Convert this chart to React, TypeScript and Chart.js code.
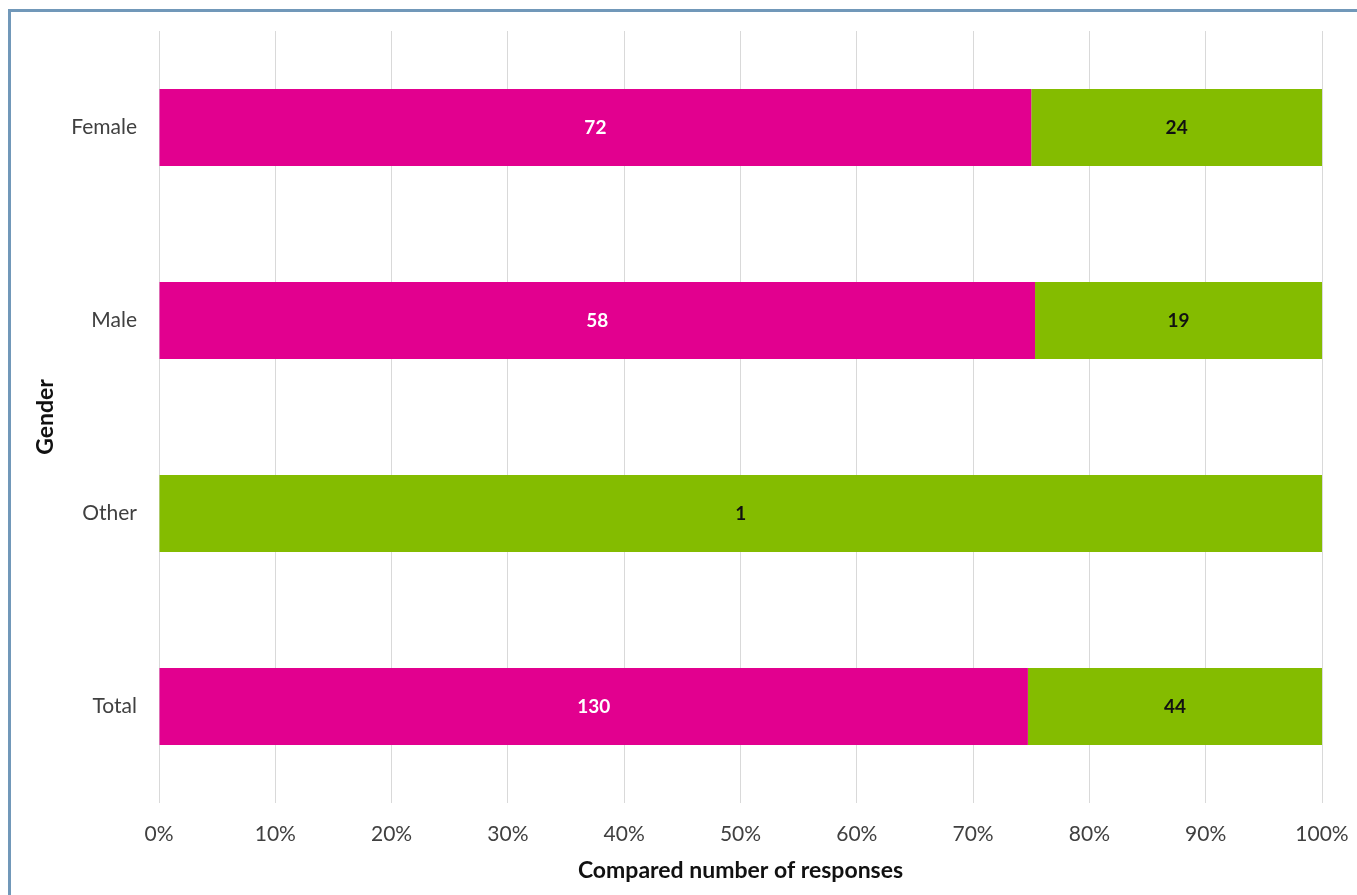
import React, { useEffect, useRef } from "react";
import { Chart, registerables } from "chart.js";

Chart.register(...registerables);

const categories = ["Female", "Male", "Other", "Total"];
const pinkCounts = [72, 58, 0, 130];
const greenCounts = [24, 19, 1, 44];
const xTickValues = [0, 10, 20, 30, 40, 50, 60, 70, 80, 90, 100];

const PINK = "#e2008f";
const GREEN = "#84bc00";
const FONT = "Lato, 'Open Sans', sans-serif";

function pct(a: number[], b: number[]) {
  return a.map((v, i) => {
    const t = a[i] + b[i];
    return t === 0 ? 0 : (v / t) * 100;
  });
}

const labelPlugin = {
  id: "barLabels",
  afterDatasetsDraw(chart: any) {
    const ctx = chart.ctx;
    ctx.save();
    ctx.font = `bold 19px ${FONT}`;
    ctx.textAlign = "center";
    ctx.textBaseline = "middle";
    chart.data.datasets.forEach((ds: any, di: number) => {
      const meta = chart.getDatasetMeta(di);
      const counts: number[] = ds.counts;
      meta.data.forEach((el: any, i: number) => {
        if (!counts[i]) return;
        const x = (el.x + el.base) / 2;
        ctx.fillStyle = ds.labelColor;
        ctx.fillText(String(counts[i]), x, el.y);
      });
    });
    ctx.restore();
  },
};

export default function App() {
  const ref = useRef<HTMLCanvasElement>(null);
  useEffect(() => {
    if (!ref.current) return;
    const chart = new Chart(ref.current, {
      type: "bar",
      data: {
        labels: categories,
        datasets: [
          {
            label: "A",
            data: pct(pinkCounts, greenCounts),
            backgroundColor: PINK,
            counts: pinkCounts,
            labelColor: "#ffffff",
          } as any,
          {
            label: "B",
            data: pct(greenCounts, pinkCounts),
            backgroundColor: GREEN,
            counts: greenCounts,
            labelColor: "#111111",
          } as any,
        ],
      },
      options: {
        indexAxis: "y",
        responsive: false,
        animation: false,
        maintainAspectRatio: false,
        layout: { padding: { left: 0, top: 31, right: 35, bottom: 0 } },
        datasets: { bar: { categoryPercentage: 1, barPercentage: 0.4 } },
        plugins: {
          legend: { display: false },
          tooltip: { enabled: false },
        },
        scales: {
          x: {
            stacked: true,
            min: 0,
            max: 100,
            afterFit: (s: any) => {
              s.height = 92;
              s.paddingLeft = 0;
              s.paddingRight = 0;
            },
            afterBuildTicks: (s: any) => {
              s.ticks = xTickValues.map((v) => ({ value: v }));
            },
            grid: { color: "#d9d9d9", lineWidth: 1, drawTicks: false },
            border: { display: false },
            ticks: {
              padding: 19,
              color: "#404040",
              font: { family: FONT, size: 21 },
              callback: (v: any) => `${v}%`,
            },
            title: {
              display: true,
              text: "Compared number of responses",
              color: "#111111",
              font: { family: FONT, size: 23, weight: "bold" },
              padding: { top: 0, bottom: 11 },
            },
          },
          y: {
            stacked: true,
            afterFit: (s: any) => {
              s.width = 159;
              s.paddingTop = 0;
              s.paddingBottom = 0;
            },
            grid: { display: false },
            border: { display: false },
            ticks: {
              padding: 14,
              color: "#404040",
              font: { family: FONT, size: 21 },
            },
            title: {
              display: true,
              text: "Gender",
              color: "#111111",
              font: { family: FONT, size: 23, weight: "bold" },
              padding: { top: 32, bottom: 0 },
            },
          },
        },
      },
      plugins: [labelPlugin],
    });
    return () => chart.destroy();
  }, []);

  return (
    <>
      <div
        style={{
          position: "fixed",
          left: 8,
          top: 9,
          right: -20,
          bottom: -20,
          border: "3px solid #7198b9",
          boxSizing: "border-box",
        }}
      />
      <canvas
        ref={ref}
        width={1357}
        height={895}
        style={{ position: "fixed", left: 0, top: 0, width: 1357, height: 895 }}
      />
    </>
  );
}
